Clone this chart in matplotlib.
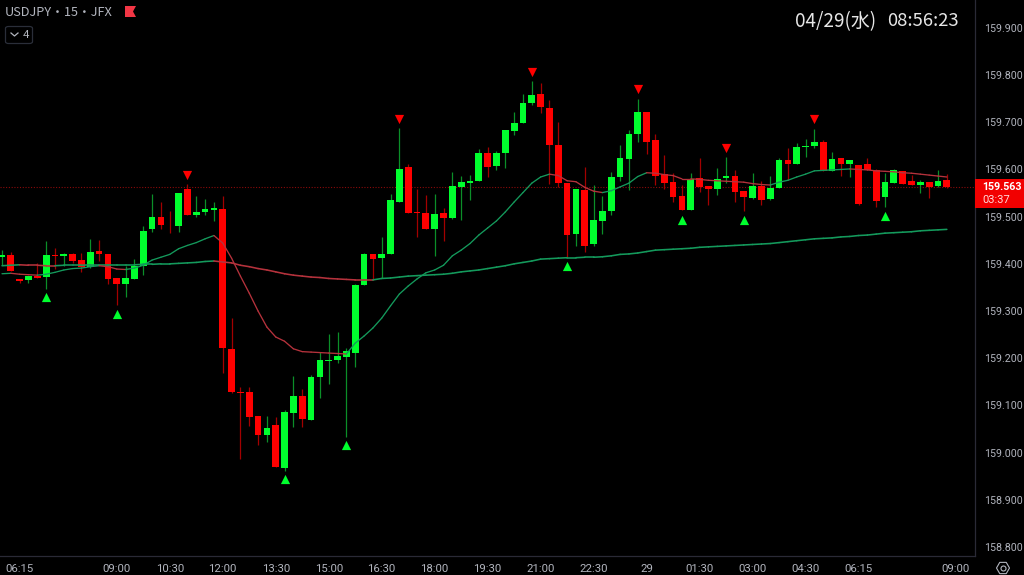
import matplotlib
matplotlib.use("Agg")
import matplotlib.pyplot as plt
from matplotlib.patches import Polygon, Rectangle, FancyBboxPatch
from matplotlib.collections import LineCollection
import numpy as np

W, H = 1024, 575
# USDJPY 15-minute candles
opens = [159.414,159.419,159.367,159.365,159.374,159.372,159.418,159.417,159.420,159.408,159.393,159.428,159.421,159.369,159.357,159.368,159.395,159.474,159.499,159.483,159.480,159.558,159.504,159.510,159.514,159.516,159.220,159.128,159.128,159.077,159.037,159.058,158.968,159.085,159.121,159.070,159.160,159.194,159.196,159.203,159.211,159.355,159.420,159.412,159.420,159.530,159.605,159.509,159.508,159.474,159.508,159.498,159.563,159.572,159.575,159.635,159.607,159.634,159.681,159.698,159.741,159.759,159.730,159.652,159.571,159.463,159.556,159.442,159.490,159.513,159.585,159.623,159.675,159.721,159.662,159.591,159.574,159.544,159.514,159.582,159.564,159.559,159.582,159.586,159.555,159.539,159.565,159.537,159.561,159.620,159.612,159.647,159.649,159.659,159.597,159.624,159.611,159.609,159.611,159.599,159.542,159.572,159.597,159.575,159.568,159.574,159.564,159.577]
highs = [159.429,159.426,159.368,159.374,159.401,159.449,159.433,159.422,159.423,159.422,159.452,159.450,159.421,159.369,159.396,159.410,159.480,159.548,159.532,159.512,159.551,159.569,159.544,159.537,159.531,159.544,159.286,159.140,159.140,159.077,159.077,159.075,159.090,159.162,159.135,159.164,159.214,159.251,159.256,159.221,159.357,159.424,159.420,159.456,159.547,159.687,159.612,159.559,159.546,159.547,159.518,159.595,159.587,159.588,159.643,159.647,159.639,159.683,159.722,159.760,159.787,159.783,159.747,159.700,159.571,159.558,159.606,159.568,159.544,159.595,159.651,159.683,159.749,159.721,159.675,159.631,159.592,159.567,159.592,159.624,159.564,159.602,159.626,159.598,159.555,159.592,159.575,159.587,159.625,159.645,159.657,159.664,159.686,159.662,159.638,159.624,159.621,159.609,159.624,159.601,159.592,159.601,159.597,159.588,159.578,159.574,159.599,159.590]
lows = [159.397,159.385,159.360,159.360,159.370,159.347,159.389,159.395,159.402,159.383,159.391,159.407,159.357,159.313,159.330,159.368,159.377,159.468,159.473,159.465,159.467,159.504,159.500,159.503,159.491,159.168,159.126,158.986,159.056,159.016,159.023,158.969,158.961,159.055,159.055,159.070,159.116,159.145,159.190,159.034,159.182,159.355,159.366,159.370,159.420,159.530,159.507,159.457,159.474,159.417,159.448,159.494,159.493,159.536,159.575,159.584,159.599,159.604,159.672,159.698,159.737,159.720,159.569,159.563,159.415,159.438,159.426,159.438,159.464,159.504,159.576,159.556,159.659,159.632,159.567,159.559,159.530,159.515,159.514,159.553,159.525,159.546,159.571,159.532,159.512,159.538,159.524,159.535,159.561,159.578,159.612,159.626,159.646,159.596,159.597,159.587,159.585,159.525,159.599,159.521,159.520,159.572,159.569,159.568,159.550,159.539,159.563,159.560]
closes = [159.419,159.385,159.364,159.374,159.371,159.419,159.417,159.420,159.407,159.394,159.426,159.420,159.368,159.357,159.370,159.396,159.470,159.499,159.482,159.482,159.551,159.504,159.510,159.516,159.518,159.221,159.128,159.126,159.075,159.037,159.052,158.969,159.086,159.121,159.071,159.160,159.196,159.196,159.205,159.216,159.355,159.421,159.410,159.421,159.536,159.600,159.507,159.507,159.474,159.506,159.498,159.564,159.573,159.575,159.635,159.605,159.634,159.683,159.699,159.741,159.758,159.732,159.652,159.572,159.462,159.558,159.438,159.493,159.513,159.585,159.625,159.676,159.721,159.659,159.586,159.572,159.542,159.515,159.580,159.563,159.558,159.580,159.586,159.553,159.542,159.565,159.536,159.561,159.621,159.612,159.647,159.649,159.658,159.597,159.622,159.611,159.621,159.526,159.599,159.533,159.573,159.599,159.569,159.568,159.574,159.563,159.575,159.563]
ma_fast = [159.379,159.380,159.378,159.377,159.376,159.378,159.382,159.387,159.390,159.391,159.394,159.396,159.394,159.389,159.388,159.391,159.397,159.408,159.414,159.420,159.432,159.439,159.445,159.453,159.460,159.444,159.412,159.374,159.338,159.300,159.266,159.245,159.236,159.220,159.214,159.213,159.212,159.211,159.210,159.209,159.232,159.247,159.264,159.285,159.311,159.336,159.353,159.368,159.381,159.387,159.397,159.417,159.429,159.443,159.461,159.476,159.491,159.510,159.531,159.551,159.571,159.584,159.590,159.587,159.576,159.574,159.562,159.554,159.551,159.555,159.563,159.571,159.585,159.593,159.592,159.589,159.587,159.580,159.580,159.579,159.577,159.576,159.575,159.574,159.573,159.570,159.568,159.567,159.573,159.577,159.584,159.590,159.597,159.598,159.599,159.600,159.601,159.600,159.599,159.597,159.596,159.595,159.593,159.592,159.590,159.588,159.586,159.584]
ma_slow = [159.396,159.397,159.398,159.397,159.397,159.396,159.396,159.397,159.397,159.397,159.398,159.398,159.398,159.398,159.398,159.398,159.399,159.399,159.400,159.400,159.401,159.402,159.403,159.405,159.406,159.404,159.402,159.397,159.394,159.390,159.387,159.383,159.379,159.376,159.374,159.372,159.371,159.369,159.368,159.367,159.366,159.366,159.366,159.369,159.370,159.372,159.374,159.375,159.376,159.377,159.378,159.380,159.383,159.385,159.387,159.390,159.393,159.396,159.400,159.403,159.406,159.410,159.411,159.412,159.413,159.413,159.414,159.414,159.415,159.417,159.420,159.421,159.423,159.426,159.429,159.430,159.431,159.432,159.433,159.435,159.436,159.437,159.438,159.439,159.440,159.441,159.442,159.443,159.445,159.447,159.449,159.451,159.453,159.454,159.455,159.457,159.458,159.460,159.461,159.463,159.465,159.466,159.467,159.468,159.470,159.471,159.472,159.473]
up_bars = [5,13,32,39,64,77,84,100]
up_prices = [159.330,159.294,158.944,159.016,159.396,159.493,159.493,159.501]
down_bars = [21,45,60,72,82,92]
down_prices = [159.589,159.707,159.807,159.770,159.646,159.706]
x_tick_bars = [2,13,19,25,31,37,43,49,55,61,67,73,79,85,91,97,108]
x_tick_labels = ["06:15","09:00","10:30","12:00","13:30","15:00","16:30","18:00","19:30","21:00","22:30","29","01:30","03:00","04:30","06:15","09:00"]
y_ticks = [159.9,159.8,159.7,159.6,159.5,159.4,159.3,159.2,159.1,159.0,158.9,158.8]
last_price = 159.563
countdown = "03:37"
symbol = "USDJPY・15・JFX"
clock_date = "04/29(水)"
clock_time = "08:56:23"

UP, DOWN = "#00ff2e", "#ff0000"
UP_WICK, DOWN_WICK = "#0b8f28", "#a30000"
MA_UP, MA_DOWN = "#149a5c", "#b5323c"
TXT, FRAME = "#b2b5be", "#2a2a36"
FONT = ["Roboto", "DejaVu Sans"]

o, h, l, c = map(np.array, (opens, highs, lows, closes))
idx = np.arange(len(o))
rising = c >= o

fig = plt.figure(figsize=(W/100, H/100), dpi=100, facecolor="black")
ax = fig.add_axes([0, 1-556/H, 975/W, 556/H], facecolor="black")
ax.set_xlim(-0.2265, 110.19)
ax.set_ylim(158.781, 159.959)

# candles
ax.vlines(idx[rising], l[rising], h[rising], color=UP_WICK, lw=0.9, zorder=2)
ax.vlines(idx[~rising], l[~rising], h[~rising], color=DOWN_WICK, lw=0.9, zorder=2)
body = np.maximum(np.abs(c-o), 0.0012)
ax.bar(idx, body, bottom=np.minimum(o, c), width=0.76,
       color=[UP if r else DOWN for r in rising], linewidth=0, zorder=3)

# moving averages coloured by slope
def ma_line(vals, lw):
    vals = np.array(vals, float)
    pts = np.column_stack([idx, vals])
    segs = np.stack([pts[:-1], pts[1:]], axis=1)
    cols, cur = [], MA_UP
    for d in np.diff(vals):
        if d > 0: cur = MA_UP
        elif d < 0: cur = MA_DOWN
        cols.append(cur)
    ax.add_collection(LineCollection(segs, colors=cols, linewidths=lw, zorder=4, capstyle="round"))
ma_line(ma_slow, 1.15)
ma_line(ma_fast, 0.95)

# signals
ax.scatter(up_bars, up_prices, marker="^", s=44, color=UP, linewidths=0, zorder=5)
ax.scatter(down_bars, down_prices, marker="v", s=44, color=DOWN, linewidths=0, zorder=5)

# last price line
ax.axhline(last_price, color="#8a0a0a", lw=0.8, ls=(0, (1, 1.5)), zorder=1)

# axes
for s in ("top", "left"):
    ax.spines[s].set_visible(False)
for s in ("right", "bottom"):
    ax.spines[s].set_color(FRAME)
    ax.spines[s].set_linewidth(0.9)
ax.yaxis.tick_right()
ax.set_yticks(y_ticks)
ax.set_yticklabels([f"{v:.3f}" for v in y_ticks], family=FONT, fontsize=7.7, color=TXT)
ax.tick_params(axis="y", length=0, pad=6.2)
ax.set_xticks(x_tick_bars)
ax.set_xticklabels(x_tick_labels, family=FONT, fontsize=8.2, color=TXT)
ax.tick_params(axis="x", length=0, pad=5.5)

def px(x, y):
    return x/W, 1-y/H

# price tag
fig.add_artist(Rectangle(px(975, 207.5), 49/W, 29/H, transform=fig.transFigure,
                         facecolor="#f20000", edgecolor="none", zorder=6))
fig.text(*px(1002, 187), f"{last_price:.3f}", color="white", fontsize=7.7, fontweight="bold",
         family=FONT, ha="center", va="center", zorder=7)
fig.text(*px(996, 200), countdown, color="#ffd9d9", fontsize=8,
         family=FONT, ha="center", va="center", zorder=7)

# header
fig.text(*px(5, 12), symbol, color=TXT, fontsize=9.2,
         family=["Noto Sans CJK JP", "DejaVu Sans"], ha="left", va="center")
fig.add_artist(Polygon([px(125, 6), px(136, 6), px(133, 11.5), px(136, 17), px(125, 17)],
                       closed=True, transform=fig.transFigure, facecolor="#f23645", edgecolor="none"))
fig.add_artist(FancyBboxPatch(px(5.5, 43.5), 27/W, 17/H, boxstyle="round,pad=0,rounding_size=0.003",
                              transform=fig.transFigure, facecolor="black", edgecolor="#2a2e39", lw=0.9))
fig.add_artist(plt.Line2D([px(11, 33)[0], px(14.5, 36)[0], px(18, 33)[0]],
                          [px(11, 33)[1], px(14.5, 36)[1], px(18, 33)[1]],
                          transform=fig.transFigure, color=TXT, lw=0.9))
fig.text(*px(26, 34.5), "4", color=TXT, fontsize=8.2, family=FONT, ha="center", va="center")

# clock
clock_font = ["Noto Sans CJK JP", "DejaVu Sans"]
fig.text(*px(795, 21.5), clock_date, color="#e6e6e6", fontsize=13.6, family=clock_font, ha="left", va="center")
fig.text(*px(959, 21.5), clock_time, color="#e6e6e6", fontsize=13.3, family=clock_font, ha="right", va="center")

# settings icon
theta = np.deg2rad(np.arange(0, 360, 60))
fig.add_artist(Polygon([px(1003+6.5*np.cos(t), 568+6.5*np.sin(t)) for t in theta], closed=True,
                       transform=fig.transFigure, facecolor="none", edgecolor=TXT, lw=0.8))
fig.add_artist(plt.Line2D([px(1003, 568)[0]], [px(1003, 568)[1]], marker="o", ms=3.6, mfc="none",
                          mec=TXT, mew=0.8, transform=fig.transFigure))

fig.savefig("out.png", dpi=100, facecolor="black")
